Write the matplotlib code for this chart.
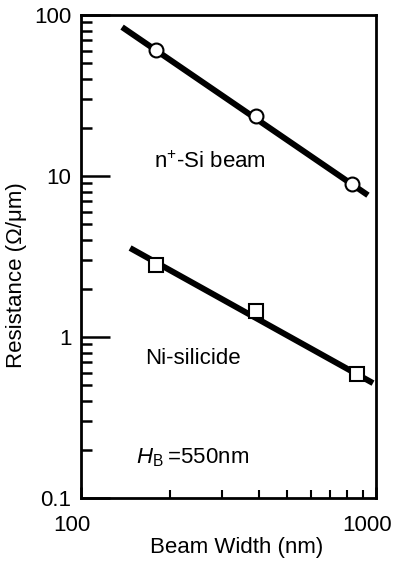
import matplotlib
matplotlib.use("Agg")
import matplotlib.pyplot as plt
import matplotlib.transforms as mtransforms
from matplotlib.ticker import LogLocator, NullFormatter, FixedLocator, FixedFormatter

plt.rcParams['font.family'] = ['Liberation Sans', 'DejaVu Sans']
plt.rcParams['mathtext.fontset'] = 'custom'
plt.rcParams['mathtext.rm'] = 'Liberation Sans'
plt.rcParams['mathtext.it'] = 'Liberation Sans:italic'

# Data
si_width = [179.5, 392, 826]
si_res = [60.7, 23.5, 8.87]
si_fit_w = [137.8, 939]
si_fit_r = [84.1, 7.6]

ni_width = [179.5, 392, 860]
ni_res = [2.80, 1.45, 0.589]
ni_fit_w = [146.7, 977]
ni_fit_r = [3.57, 0.517]

y_ticks = [0.1, 1, 10, 100]
y_labels = ['0.1', '1', '10', '100']
x_ticks = [100, 1000]
x_labels = ['100', '1000']

W, H = 395, 561
fig = plt.figure(figsize=(W/100, H/100), dpi=100)
ax = fig.add_axes([81/W, 1-498/H, (376-81)/W, (498-15)/H])

ax.plot(si_fit_w, si_fit_r, color='black', lw=4.3, solid_capstyle='butt', zorder=2)
ax.plot(si_width, si_res, 'o', ms=10, mfc='white', mec='black', mew=1.5, zorder=3)
ax.plot(ni_fit_w, ni_fit_r, color='black', lw=4.3, solid_capstyle='butt', zorder=2)
ax.plot(ni_width, ni_res, 's', ms=10, mfc='white', mec='black', mew=1.5, zorder=3)

ax.set_xscale('log')
ax.set_yscale('log')
ax.set_xlim(100, 1000)
ax.set_ylim(0.1, 100)

for s in ax.spines.values():
    s.set_linewidth(2)

ax.yaxis.set_major_locator(FixedLocator(y_ticks))
ax.yaxis.set_major_formatter(FixedFormatter(y_labels))
ax.yaxis.set_minor_locator(LogLocator(base=10, subs=range(2, 10)))
ax.yaxis.set_minor_formatter(NullFormatter())
ax.xaxis.set_major_locator(FixedLocator(x_ticks))
ax.xaxis.set_major_formatter(FixedFormatter(x_labels))
ax.xaxis.set_minor_locator(LogLocator(base=10, subs=range(2, 10)))
ax.xaxis.set_minor_formatter(NullFormatter())

ax.tick_params(axis='y', which='major', direction='in', length=21, width=1.8, labelsize=16, pad=7)
ax.tick_params(axis='y', which='minor', direction='in', length=8, width=1.8)
ax.tick_params(axis='x', which='major', direction='in', length=8, width=1.8, labelsize=16, pad=12)
ax.tick_params(axis='x', which='minor', direction='in', length=6, width=1.5)

offset = mtransforms.ScaledTranslation(-9/100, 0, fig.dpi_scale_trans)
for lab in ax.xaxis.get_majorticklabels():
    lab.set_transform(lab.get_transform() + offset)

ax.set_xlabel('Beam Width (nm)', fontsize=16, va='center')
ax.xaxis.set_label_coords((237-81)/295, (498-547)/483)
ax.set_ylabel('Resistance (Ω/μm)', fontsize=16, va='center')
ax.yaxis.set_label_coords((17-81)/295, (498-275)/483)

ax.text((210-81)/295, (498-162)/483, 'n$^{\\mathregular{+}}$-Si beam', fontsize=16,
        ha='center', va='center', transform=ax.transAxes)
ax.text((193-81)/295, (498-358)/483, 'Ni-silicide', fontsize=16,
        ha='center', va='center', transform=ax.transAxes)
ax.text((136-81)/295, (498-458)/483, '$\\mathit{H}_{\\mathregular{B}}$\u2009=550nm', fontsize=16,
        ha='left', va='center', transform=ax.transAxes)

fig.savefig('out.png', dpi=100)
